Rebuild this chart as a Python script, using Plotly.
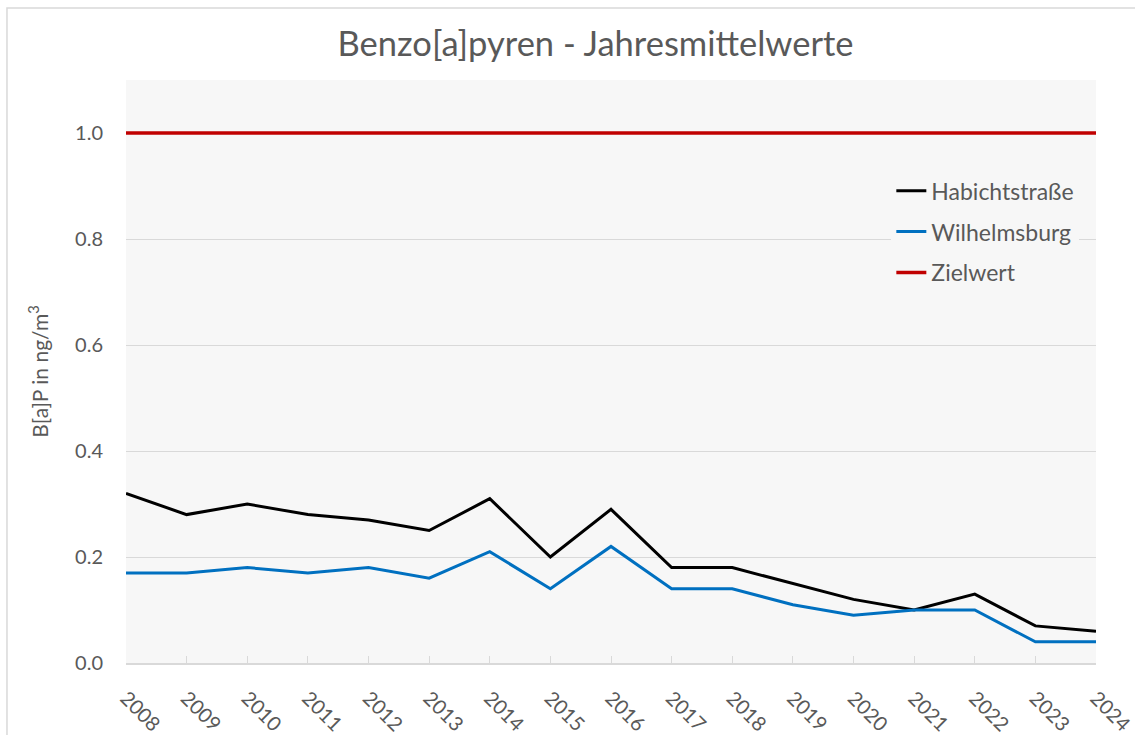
import plotly.graph_objects as go

# Annual mean benzo[a]pyrene concentrations (ng/m³)
years = list(range(2008, 2025))
habichtstrasse = [0.32, 0.28, 0.30, 0.28, 0.27, 0.25, 0.31, 0.20, 0.29,
                  0.18, 0.18, 0.15, 0.12, 0.10, 0.13, 0.07, 0.06]
wilhelmsburg = [0.17, 0.17, 0.18, 0.17, 0.18, 0.16, 0.21, 0.14, 0.22,
                0.14, 0.14, 0.11, 0.09, 0.10, 0.10, 0.04, 0.04]
zielwert = [1.0] * len(years)

FONT = "Lato, 'Open Sans', sans-serif"
GRAY = "#595959"
GRID = "#d9d9d9"

fig = go.Figure()
fig.add_trace(go.Scatter(x=years, y=habichtstrasse, mode="lines", name="Habichtstraße",
                         legendgroup="a", line=dict(color="#000000", width=3)))
fig.add_trace(go.Scatter(x=years, y=wilhelmsburg, mode="lines", name="Wilhelmsburg",
                         legendgroup="b", line=dict(color="#0070c0", width=3)))
fig.add_trace(go.Scatter(x=years, y=zielwert, mode="lines", name="Zielwert",
                         legendgroup="c", line=dict(color="#c00000", width=3.5)))

fig.update_layout(
    width=1135, height=735,
    margin=dict(l=126, r=39, t=80, b=72),
    paper_bgcolor="white",
    plot_bgcolor="#f7f7f7",
    font=dict(family=FONT, color=GRAY, size=20),
    title=dict(text="Benzo[a]pyren - Jahresmittelwerte", x=0.5247, xanchor="center",
               y=0.94, yanchor="middle", font=dict(size=34.5, color=GRAY, family=FONT)),
    showlegend=True,
    legend=dict(x=0.789, y=0.847, xanchor="left", yanchor="top",
                bgcolor="#f7f7f7", font=dict(size=23, color=GRAY, family=FONT),
                tracegroupgap=8, itemwidth=30),
    xaxis=dict(range=[2008, 2024], tickmode="array", tickvals=years,
               ticktext=[str(y) for y in years], tickangle=45,
               ticks="inside", ticklen=7, tickcolor=GRID,
               showgrid=False, showline=True, linecolor=GRID, linewidth=1.5,
               zeroline=False, ticklabelstandoff=14, automargin=False,
               ticklabeloverflow="allow",
               tickfont=dict(size=20, color=GRAY)),
    yaxis=dict(range=[0, 1.1], tickmode="array", tickvals=[0, 0.2, 0.4, 0.6, 0.8, 1.0],
               ticktext=["0.0", "0.2", "0.4", "0.6", "0.8", "1.0"],
               showgrid=True, gridcolor=GRID, gridwidth=1, zeroline=False,
               showline=False, ticks="", ticklabelstandoff=22, automargin=False,
               title=dict(text="B[a]P in ng/m<sup>3</sup>", standoff=20,
                          font=dict(size=21, color=GRAY)),
               tickfont=dict(size=20, color=GRAY)),
    shapes=[dict(type="rect", xref="paper", yref="paper",
                 x0=-0.1227, x1=1.2, y0=-0.3, y1=1.1235,
                 line=dict(color="#d9d9d9", width=1.5), fillcolor="rgba(0,0,0,0)",
                 layer="below")],
)

fig.write_html("out.html")
